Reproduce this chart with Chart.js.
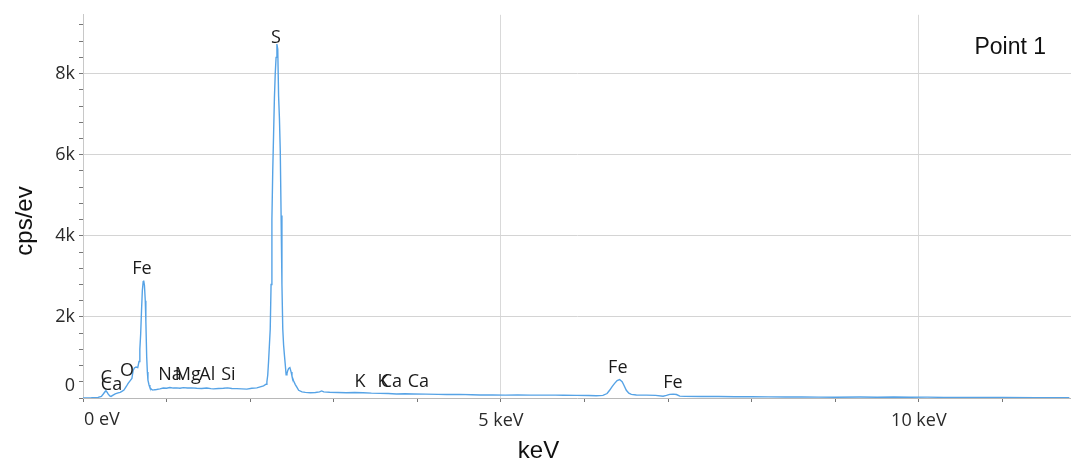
<!DOCTYPE html>
<html>
<head>
<meta charset="utf-8">
<title>EDS spectrum - Point 1</title>
<script src="https://cdn.jsdelivr.net/npm/chart.js@4.4.1/dist/chart.umd.min.js"></script>
<style>
  body { margin: 0; background: #fff; }
  #wrap { width: 1071px; height: 461px; }
</style>
</head>
<body>
<div id="wrap"><canvas id="spectrum"></canvas></div>
<script>
// Spectrum readout: energy (keV) and counts (cps/eV)
const energyKeV = [
  0.00, 0.10, 0.18, 0.22, 0.245, 0.265, 0.275, 0.29, 0.30, 0.32, 0.335, 0.36, 0.385, 0.42, 0.445, 0.47, 0.49,
  0.52, 0.54, 0.565, 0.585, 0.60, 0.615, 0.635, 0.655, 0.67, 0.68, 0.69, 0.70, 0.71, 0.72, 0.726, 0.735,
  0.745, 0.752, 0.762, 0.77, 0.777, 0.79, 0.80, 0.82, 0.835, 0.86, 0.88, 0.92, 0.96, 1.00, 1.04, 1.08,
  1.12, 1.16, 1.20, 1.25, 1.30, 1.36, 1.42, 1.48, 1.53, 1.56, 1.62, 1.68, 1.73, 1.78, 1.84, 1.90, 1.96,
  2.02, 2.08, 2.12, 2.16, 2.19, 2.20, 2.21, 2.22, 2.23, 2.24, 2.25, 2.26, 2.27, 2.28, 2.29, 2.30, 2.31,
  2.32, 2.33, 2.34, 2.35, 2.36, 2.37, 2.38, 2.39, 2.40, 2.41, 2.42, 2.43, 2.44, 2.45, 2.46, 2.475, 2.49,
  2.50, 2.52, 2.54, 2.56, 2.58, 2.62, 2.66, 2.72, 2.78, 2.83, 2.855, 2.88, 2.95, 3.05, 3.15, 3.25, 3.35,
  3.45, 3.55, 3.65, 3.75, 3.85, 3.95, 4.10, 4.25, 4.35, 4.50, 4.65, 4.75, 4.90, 5.05, 5.20, 5.35, 5.50,
  5.65, 5.75, 5.90, 6.05, 6.14, 6.22, 6.27, 6.30, 6.33, 6.36, 6.39, 6.42, 6.45, 6.47, 6.50, 6.53, 6.56,
  6.62, 6.74, 6.85, 6.94, 6.98, 7.02, 7.06, 7.10, 7.14, 7.20, 7.40, 7.60, 7.80, 8.00, 8.20, 8.40, 8.60,
  8.80, 9.00, 9.30, 9.50, 9.70, 9.90, 10.10, 10.30, 10.60, 11.00, 11.40, 11.80
];
const countsCps = [
  0, 5, 15, 40, 105, 160, 180, 140, 100, 50, 40, 70, 100, 125, 140, 170, 195,
  290, 360, 430, 480, 680, 740, 765, 750, 900, 1200, 1580, 2150, 2650, 2870, 2895, 2780,
  2400, 1900, 1010, 640, 440, 320, 260, 210, 195, 205, 210, 225, 245, 240, 260, 245,
  250, 240, 255, 245, 250, 240, 235, 245, 230, 225, 235, 240, 250, 235, 230, 225, 220,
  240, 250, 275, 300, 340, 400, 560, 900, 1300, 1700, 2800, 4400, 5600, 6500, 7400, 8000, 8400,
  8730, 8600, 7450, 6900, 6100, 4500, 2800, 1700, 1300, 1050, 820, 570, 600, 680, 730, 750, 640,
  540, 420, 330, 260, 190, 150, 140, 130, 135, 150, 175, 150, 140, 135, 130, 135, 130,
  120, 115, 110, 100, 105, 100, 95, 90, 88, 90, 80, 75, 78, 72, 75, 72, 70,
  72, 68, 65, 60, 55, 65, 110, 190, 280, 360, 430, 456, 400, 320, 190, 120, 90,
  75, 72, 65, 45, 65, 90, 95, 85, 45, 40, 38, 36, 32, 30, 28, 26, 25,
  22, 20, 24, 18, 25, 20, 22, 15, 12, 12, 10, 10
];

// Element line markers: name, line energy (keV), height of the label (cps)
const peakNames = ["C", "Ca", "O", "Fe", "Na", "Mg", "Al", "Si", "S", "K", "K", "Ca", "Ca", "Fe", "Fe"];
const peakKeV = [0.277, 0.341, 0.525, 0.705, 1.041, 1.254, 1.486, 1.740, 2.307, 3.313, 3.590, 3.690, 4.012, 6.398, 7.057];
const peakLabelCps = [500, 317, 670, 3180, 570, 570, 570, 570, 8890, 400, 400, 400, 400, 745, 380];

const pointName = "Point 1";
const xTitle = "keV";
const yTitle = "cps/ev";

// Axis ranges and tick spacing (minor marks; labels every 5 keV / 2k)
const xMax = 11.82, xStep = 1, xLabelEvery = 5;
const yMax = 9450, yStep = 400, yLabelEvery = 2000;

const tickFont = { family: "'Open Sans', 'Noto Sans', sans-serif", size: 18 };
const tickColor = "#2a2a2a";
const titleFont = "24px 'Liberation Sans', Arial, sans-serif";

function stepTicks(max, step) {
  const ticks = [];
  for (let i = 0; i * step <= max; i++) ticks.push({ value: i * step });
  return ticks;
}

// Text drawn over the plot: element names, corner zeros, axis titles, point name
const overlayPlugin = {
  id: "overlay",
  afterDatasetsDraw(chart) {
    const { ctx, scales: { x, y } } = chart;
    ctx.save();
    ctx.fillStyle = "#1a1a1a";
    ctx.font = "18px 'Open Sans', 'Noto Sans', sans-serif";
    ctx.textAlign = "center";
    ctx.textBaseline = "middle";
    peakNames.forEach((name, i) => {
      ctx.fillText(name, x.getPixelForValue(peakKeV[i]), y.getPixelForValue(peakLabelCps[i]));
    });

    // zero labels are pushed inside the corner rather than centred on it
    ctx.fillStyle = tickColor;
    ctx.textAlign = "left";
    ctx.fillText("0 eV", x.left + 1, y.bottom + 22);
    ctx.textAlign = "right";
    ctx.fillText("0", x.left - 8, y.bottom - 12);

    // axis titles are centred on the canvas, not on the plot area
    ctx.fillStyle = "#111";
    ctx.font = titleFont;
    ctx.textAlign = "center";
    ctx.fillText(xTitle, chart.width / 2 + 3, 451);
    ctx.save();
    ctx.translate(25, 221);
    ctx.rotate(-Math.PI / 2);
    ctx.fillText(yTitle, 0, 0);
    ctx.restore();

    ctx.font = "23px 'Liberation Sans', Arial, sans-serif";
    ctx.textAlign = "right";
    ctx.fillText(pointName, chart.width - 25, 48);
    ctx.restore();
  }
};

const points = energyKeV.map((e, i) => ({ x: e, y: countsCps[i] }));

new Chart(document.getElementById("spectrum"), {
  type: "line",
  data: {
    datasets: [{
      data: points,
      borderColor: "#56a3e6",
      borderWidth: 1.4,
      pointRadius: 0,
      tension: 0,
      fill: false
    }]
  },
  options: {
    responsive: true,
    maintainAspectRatio: false,
    animation: false,
    layout: { padding: { top: 12, right: 0, bottom: 0, left: 0 } },
    plugins: { legend: { display: false }, tooltip: { enabled: false } },
    scales: {
      x: {
        type: "linear",
        min: 0,
        max: xMax,
        afterBuildTicks: (scale) => { scale.ticks = stepTicks(xMax, xStep); },
        afterFit: (scale) => { scale.height = 63; },
        ticks: {
          autoSkip: false,
          maxRotation: 0,
          padding: 8,
          font: tickFont,
          color: tickColor,
          callback: (v) => (v > 0 && v % xLabelEvery === 0 ? v + " keV" : "")
        },
        grid: {
          color: (ctx) => (ctx.tick && ctx.tick.value > 0 && ctx.tick.value % xLabelEvery === 0 ? "#d9d9d9" : "rgba(0,0,0,0)"),
          tickColor: "#777",
          tickLength: 4
        },
        border: { color: "#b8b8b8" }
      },
      y: {
        min: 0,
        max: yMax,
        afterBuildTicks: (scale) => { scale.ticks = stepTicks(yMax, yStep); },
        afterFit: (scale) => { scale.width = 83; },
        ticks: {
          autoSkip: false,
          padding: 4,
          font: tickFont,
          color: tickColor,
          callback: (v) => (v > 0 && v % yLabelEvery === 0 ? v / 1000 + "k" : "")
        },
        grid: {
          color: (ctx) => (ctx.tick && ctx.tick.value > 0 && ctx.tick.value % yLabelEvery === 0 ? "#d4d4d4" : "rgba(0,0,0,0)"),
          tickColor: "#777",
          tickLength: 4
        },
        border: { color: "#c8c8c8" }
      }
    }
  },
  plugins: [overlayPlugin]
});
</script>
</body>
</html>
